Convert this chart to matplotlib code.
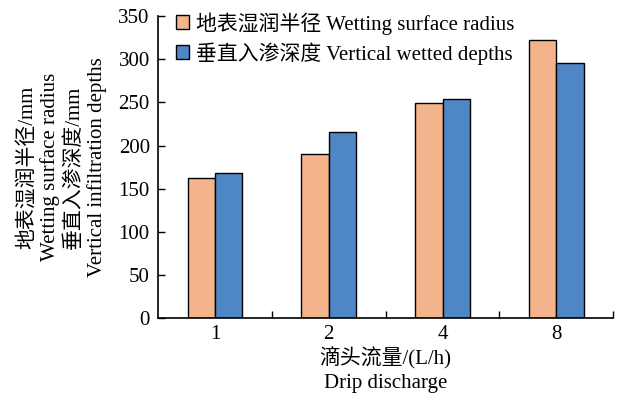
import numpy as np
import matplotlib.pyplot as plt
from matplotlib.ticker import FixedLocator

plt.rcParams['font.family'] = ['Liberation Serif', 'Noto Sans CJK SC']
plt.rcParams['mathtext.fontset'] = 'stix'

categories = ['1', '2', '4', '8']
radius = [162, 190, 249, 322]   # 地表湿润半径
depth = [168, 216, 254, 296]    # 垂直入渗深度

fig = plt.figure(figsize=(6.2, 4.0), dpi=100)
ax = fig.add_axes([0.255, 0.204, 0.734, 0.756])

x = np.arange(len(categories))
w = 0.24
ax.bar(x - w/2, radius, w, color='#F4B48B', edgecolor='black', linewidth=1.0,
       label='地表湿润半径 Wetting surface radius')
ax.bar(x + w/2, depth, w, color='#4F86C6', edgecolor='black', linewidth=1.0,
       label='垂直入渗深度 Vertical wetted depths')

ax.set_xlim(-0.5, 3.5)
ax.set_ylim(0, 350)
ax.set_yticks(range(0, 351, 50))
ax.set_xticks(x)
ax.set_xticklabels(categories)
ax.xaxis.set_minor_locator(FixedLocator([0.5, 1.5, 2.5, 3.5]))
ax.tick_params(axis='x', which='major', length=0, labelsize=15, pad=5)
ax.tick_params(axis='x', which='minor', direction='in', length=5, width=1)
ax.tick_params(axis='y', direction='in', length=5, width=1, labelsize=15, pad=6)

for s in ['top', 'right']:
    ax.spines[s].set_visible(False)
for s in ['left', 'bottom']:
    ax.spines[s].set_linewidth(1.2)

ax.set_xlabel('滴头流量/(L/h)\nDrip discharge', fontsize=15, linespacing=1.35, labelpad=2)
ax.set_ylabel('地表湿润半径/mm\nWetting surface radius\n垂直入渗深度/mm\nVertical infiltration depths',
              fontsize=15, linespacing=1.25, labelpad=8)

ax.legend(loc='upper left', frameon=False, fontsize=15, handlelength=0.65,
          handleheight=0.65, handletextpad=0.35, labelspacing=0.35,
          borderaxespad=0.0, bbox_to_anchor=(0.02, 1.04))

fig.savefig('out.png', dpi=100)
